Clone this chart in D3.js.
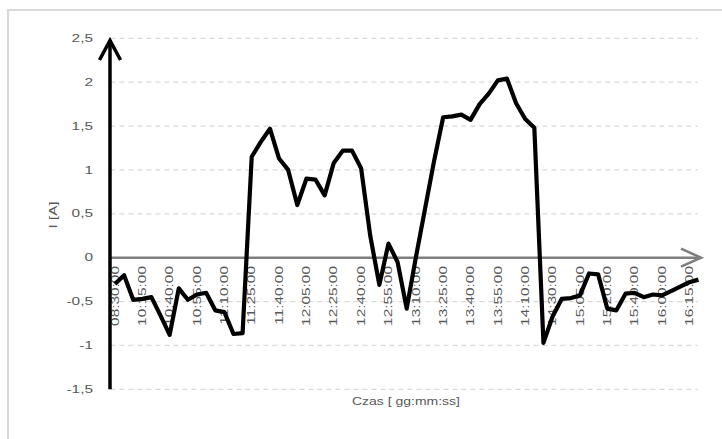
<!DOCTYPE html>
<html><head><meta charset="utf-8">
<script src="https://cdn.jsdelivr.net/npm/d3@7"></script>
<style>html,body{margin:0;padding:0;background:#fff;overflow:hidden;}svg{display:block;}</style>
</head><body>
<svg id="chart" width="722" height="439"></svg>
<script>
// ---- data ----
const values = [
  -0.30, -0.20, -0.48, -0.47, -0.45, -0.66, -0.88, -0.35, -0.48, -0.42,
  -0.40, -0.60, -0.62, -0.87, -0.86, 1.15, 1.32, 1.47, 1.13, 1.00,
   0.60, 0.90, 0.89, 0.71, 1.08, 1.22, 1.22, 1.02, 0.25, -0.31,
   0.16, -0.05, -0.58, 0.00, 0.55, 1.10, 1.60, 1.61, 1.63, 1.57,
   1.75, 1.87, 2.02, 2.04, 1.76, 1.58, 1.48, -0.97, -0.67, -0.47,
  -0.46, -0.43, -0.18, -0.19, -0.58, -0.60, -0.41, -0.40, -0.45, -0.42,
  -0.43, -0.38, -0.33, -0.28, -0.25
];
const tickLabels = [
  "08:30:00","10:15:00","10:40:00","10:55:00","11:10:00","11:25:00",
  "11:40:00","12:05:00","12:25:00","12:40:00","12:55:00","13:10:00",
  "13:25:00","13:40:00","13:55:00","14:10:00","14:30:00","15:05:00",
  "15:20:00","15:40:00","16:00:00","16:15:00"
];
const labelEvery = 3;
const yTicks = [-1.5, -1, -0.5, 0, 0.5, 1, 1.5, 2, 2.5];
const xTitle = "Czas [ gg:mm:ss]";
const yTitle = "I [A]";

// ---- chart ----
(function () {
const svg = d3.select("#chart");
const pLeft = 110.4, pRight = 703, pTop = 38.3, pBottom = 389.3;
const gridRight = 698;
const idx = d3.range(values.length);
const x = d3.scaleBand().domain(idx).range([pLeft, pRight]).padding(0);
const cx = i => x(i) + x.bandwidth() / 2;
const y = d3.scaleLinear().domain([-1.5, 2.5]).range([pBottom, pTop]);
const loc = d3.formatLocale({decimal: ",", thousands: " ", grouping: [3], currency: ["", ""], minus: "-"});
const fmt = loc.format("~g");
const grey = "#595959";
const font = "Liberation Sans, Arial, sans-serif";

// outer border (top and left edges visible; the rest lies outside the picture)
svg.append("path").attr("d", "M8,460L8,10L760,10")
  .attr("fill", "none").attr("stroke", "#d9d9d9").attr("stroke-width", 2);

// gridlines
svg.append("g").selectAll("line").data(yTicks.filter(d => d !== 0)).join("line")
  .attr("x1", pLeft).attr("x2", gridRight)
  .attr("y1", d => y(d)).attr("y2", d => y(d))
  .attr("stroke", "#d9d9d9").attr("stroke-width", 1.2).attr("stroke-dasharray", "5,4");

// y tick labels
svg.append("g").selectAll("text").data(yTicks).join("text")
  .attr("transform", d => `translate(93,${y(d)}) scale(1.4,1)`)
  .attr("text-anchor", "end").attr("dominant-baseline", "central")
  .attr("font-family", font).attr("font-size", 11).attr("fill", grey)
  .text(d => fmt(d));

// x tick labels (rotated)
const tickIdx = idx.filter(i => i % labelEvery === 0);
svg.append("g").selectAll("text").data(tickIdx).join("text")
  .attr("transform", i => `translate(${cx(i)},266) rotate(-90) scale(1.4,1)`)
  .attr("text-anchor", "end").attr("dominant-baseline", "central")
  .attr("font-family", font).attr("font-size", 11).attr("fill", grey)
  .text((i, k) => tickLabels[k]);

// zero axis with arrow
const y0 = y(0);
svg.append("line").attr("x1", pLeft).attr("x2", 700).attr("y1", y0).attr("y2", y0)
  .attr("stroke", "#7f7f7f").attr("stroke-width", 2.6);
svg.append("path").attr("d", `M681,${y0 - 9}L701,${y0}L681,${y0 + 9}`)
  .attr("fill", "none").attr("stroke", "#7f7f7f").attr("stroke-width", 2.6);

// y axis with arrow
svg.append("line").attr("x1", 110).attr("x2", 110).attr("y1", pBottom).attr("y2", 40)
  .attr("stroke", "#000").attr("stroke-width", 3.5);
svg.append("path").attr("d", "M99.5,60L110,40.5L120.5,60")
  .attr("fill", "none").attr("stroke", "#000").attr("stroke-width", 3.5);

// data line
svg.append("path").datum(values)
  .attr("d", d3.line().x((d, i) => cx(i)).y(d => y(d)))
  .attr("fill", "none").attr("stroke", "#000").attr("stroke-width", 4.2)
  .attr("stroke-linejoin", "round");

// axis titles
svg.append("text").attr("x", 406).attr("y", 405).attr("text-anchor", "middle")
  .attr("font-family", font).attr("font-size", 11).attr("fill", grey)
  .attr("textLength", 108).attr("lengthAdjust", "spacingAndGlyphs")
  .text(xTitle);
svg.append("text").attr("transform", "translate(53,215) rotate(-90)")
  .attr("text-anchor", "middle").attr("dominant-baseline", "central")
  .attr("font-family", font).attr("font-size", 11).attr("fill", grey)
  .attr("textLength", 27).attr("lengthAdjust", "spacingAndGlyphs")
  .text(yTitle);
})();
</script>
</body></html>
